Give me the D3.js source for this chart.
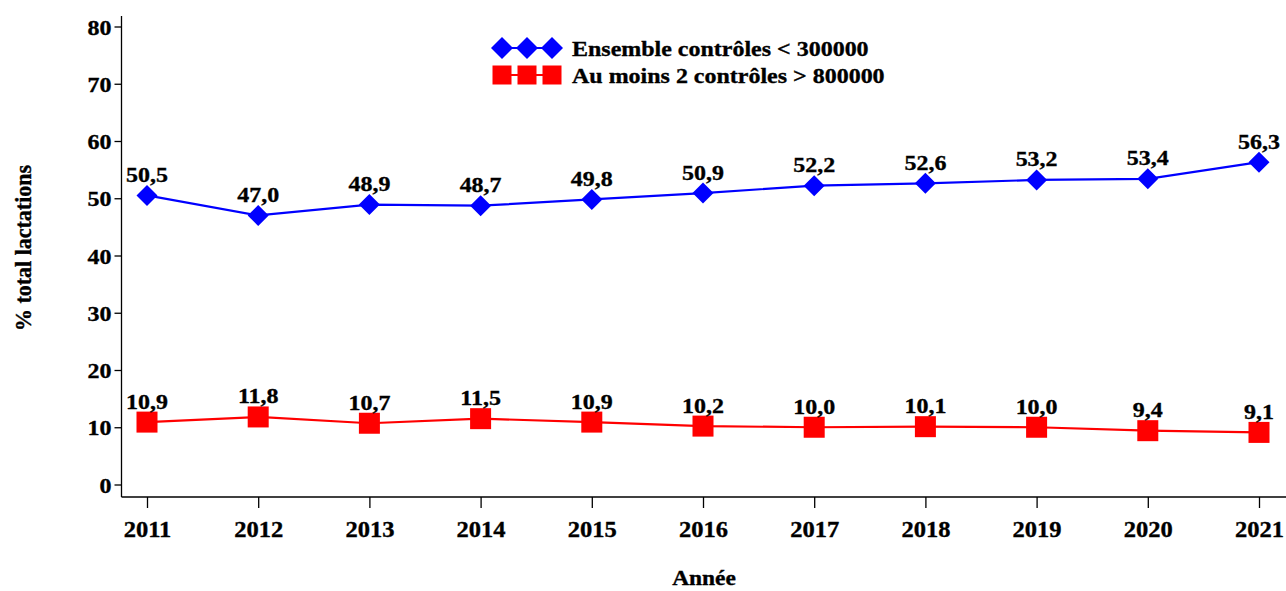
<!DOCTYPE html>
<html>
<head>
<meta charset="utf-8">
<script src="https://cdn.jsdelivr.net/npm/d3@7"></script>
<style>
  html, body { margin: 0; padding: 0; background: #fff; }
  svg text { font-family: "Liberation Serif", "Times New Roman", serif; font-weight: bold; fill: #000;
             stroke: #000; stroke-width: 0.35px; }
</style>
</head>
<body>
<svg id="chart" width="1286" height="591"></svg>
<script>
// Years and yearly shares (% of total lactations)
const years = [2011, 2012, 2013, 2014, 2015, 2016, 2017, 2018, 2019, 2020, 2021];
const ensemble = [50.5, 47.0, 48.9, 48.7, 49.8, 50.9, 52.2, 52.6, 53.2, 53.4, 56.3];
const auMoins2 = [10.9, 11.8, 10.7, 11.5, 10.9, 10.2, 10.0, 10.1, 10.0, 9.4, 9.1];
const yTicks = [0, 10, 20, 30, 40, 50, 60, 70, 80];
const seriesNames = ["Ensemble contrôles < 300000", "Au moins 2 contrôles > 800000"];

const svg = d3.select("#chart");
const fmt = v => v.toFixed(1).replace(".", ",");
const SX = 1.09; // slightly wide lettering

const x = d3.scalePoint().domain(years).range([147, 1259]);
const y = d3.scaleLinear().domain([0, 80]).range([484.5, 26.5]);

const axisX = 121.5, axisY = 497;

// places a horizontally widened label at (px, py)
function label(parent, px, py, txt, size, anchor) {
  return parent.append("text")
    .attr("transform", `translate(${px},${py}) scale(${SX},1)`)
    .attr("text-anchor", anchor || "middle")
    .style("font-size", size + "px")
    .text(txt);
}

// Y axis
const gy = svg.append("g").attr("transform", `translate(${axisX},0)`)
  .call(d3.axisLeft(y).tickValues(yTicks).tickSize(7).tickSizeOuter(0).tickFormat(""));
gy.select(".domain").remove();
gy.append("line").attr("x1", 0).attr("x2", 0).attr("y1", 16).attr("y2", axisY)
  .attr("stroke", "#000").attr("stroke-width", 1.3);
gy.selectAll(".tick line").attr("stroke", "#000").attr("stroke-width", 1.3);
gy.selectAll(".tick").each(function (d) {
  label(d3.select(this), -10, 7.5, String(d), 22, "end");
});

// X axis
const gx = svg.append("g").attr("transform", `translate(0,${axisY})`)
  .call(d3.axisBottom(x).tickSize(11).tickSizeOuter(0).tickFormat(""));
gx.select(".domain").remove();
gx.append("line").attr("x1", axisX).attr("x2", 1286).attr("y1", 0).attr("y2", 0)
  .attr("stroke", "#000").attr("stroke-width", 1.3);
gx.selectAll(".tick line").attr("stroke", "#000").attr("stroke-width", 1.3);
gx.selectAll(".tick").each(function (d) {
  label(d3.select(this), 0, 39.5, d3.format("d")(d), 22.5);
});

// Axis titles
svg.append("text").attr("transform", "translate(31,248) rotate(-90) scale(1,1.09)")
  .attr("text-anchor", "middle").style("font-size", "22px").text("% total lactations");
label(svg, 704, 585, "Année", 21.5);

const line = d3.line().x((d, i) => x(years[i])).y(d => y(d));

function diamond(g, cx, cy, r, color) {
  g.append("path").attr("d", `M${cx},${cy - r}L${cx + r},${cy}L${cx},${cy + r}L${cx - r},${cy}Z`).attr("fill", color);
}
function square(g, cx, cy, r, color) {
  g.append("rect").attr("x", cx - r).attr("y", cy - r).attr("width", 2 * r).attr("height", 2 * r).attr("fill", color);
}

function drawSeries(values, color, marker) {
  svg.append("path").datum(values).attr("d", line).attr("fill", "none")
    .attr("stroke", color).attr("stroke-width", 2.2);
  const g = svg.append("g");
  values.forEach((v, i) => marker(g, x(years[i]), y(v), 10.5, color));
  const lg = svg.append("g");
  values.forEach((v, i) => label(lg, x(years[i]), y(v) - 13.5, fmt(v), 22));
}

drawSeries(ensemble, "#0000ff", diamond);
drawSeries(auMoins2, "#ff0000", square);

// Legend
const leg = svg.append("g");
const legItems = [
  { name: seriesNames[0], color: "#0000ff", marker: diamond, cy: 48 },
  { name: seriesNames[1], color: "#ff0000", marker: square, cy: 75 }
];
legItems.forEach(it => {
  leg.append("line").attr("x1", 502).attr("x2", 552).attr("y1", it.cy).attr("y2", it.cy)
    .attr("stroke", it.color).attr("stroke-width", 2.2);
  [502, 527, 552].forEach(cx => it.marker(leg, cx, it.cy, it.marker === diamond ? 11 : 9.5, it.color));
  label(leg, 572, it.cy + 7.5, it.name, 22, "start");
});
</script>
</body>
</html>
